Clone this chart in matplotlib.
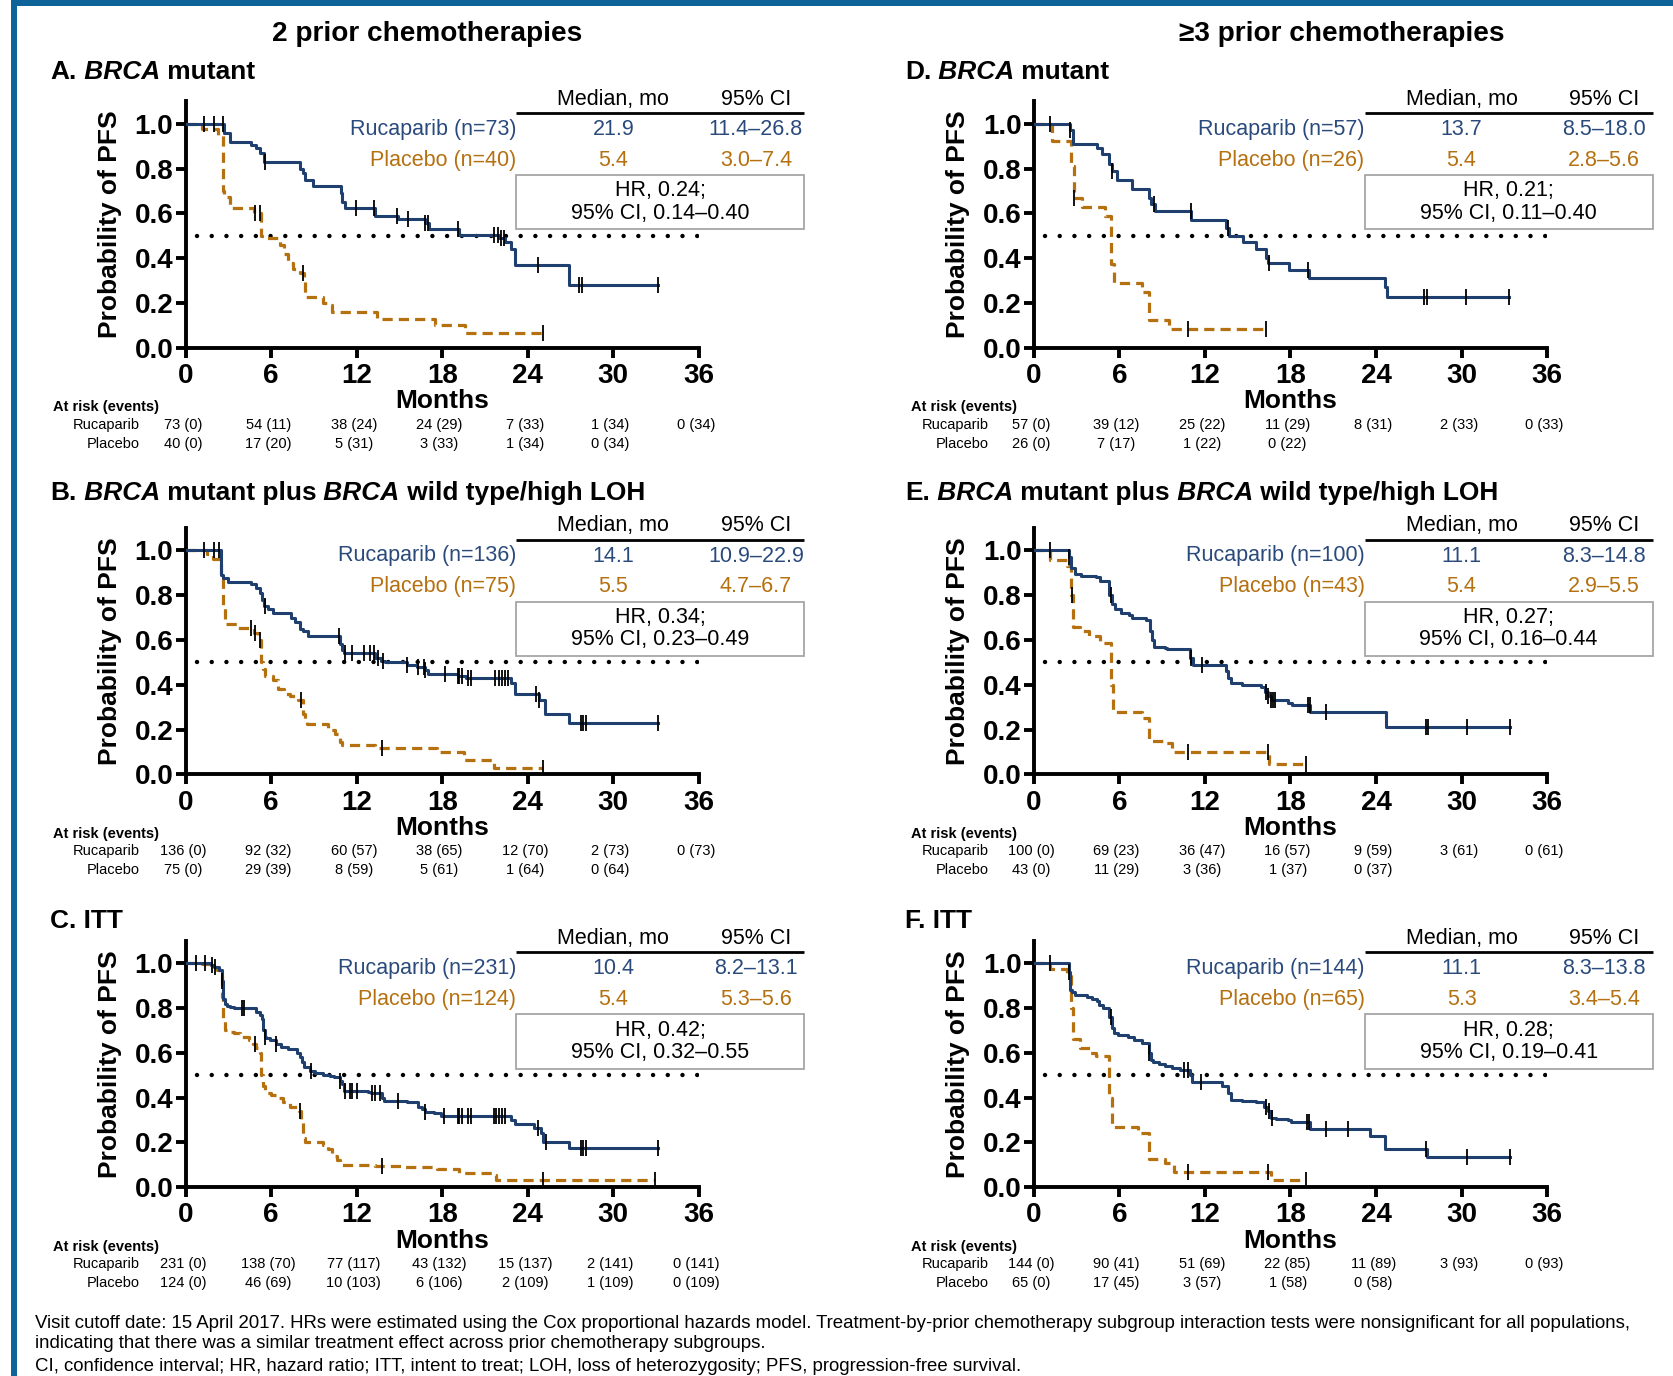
import numpy as np
import matplotlib
matplotlib.use("Agg")
import matplotlib.pyplot as plt
from matplotlib.patches import Rectangle

plt.rcParams['font.family'] = ['Liberation Sans', 'DejaVu Sans']

RUC_COLOR = '#1f3f6f'
RUC_TEXT = '#2a4a7c'
PBO_COLOR = '#b5700f'
BORDER = '#0e6399'

month_ticks = [0, 6, 12, 18, 24, 30, 36]
prob_ticks = [0.0, 0.2, 0.4, 0.6, 0.8, 1.0]

# ---- Panel A: 2 prior, BRCA mutant ----
ruc_A_t = [2.7, 3.1, 4.6, 4.9, 5.2, 5.5, 8.0, 8.2, 8.4, 8.9, 10.9, 11.0, 11.2, 13.3, 14.9, 16.8, 17.1, 19.2, 22.0, 22.4, 22.8, 23.1, 26.9]
ruc_A_s = [0.96, 0.92, 0.905, 0.89, 0.87, 0.83, 0.80, 0.78, 0.75, 0.72, 0.69, 0.65, 0.625, 0.59, 0.575, 0.555, 0.53, 0.505, 0.49, 0.47, 0.44, 0.37, 0.28]
ruc_A_cens = [1.3, 2.0, 2.6, 5.6, 11.95, 13.2, 14.8, 15.6, 16.8, 17.0, 19.1, 21.6, 21.9, 22.1, 22.3, 24.7, 27.6, 27.8]
ruc_A_end = 33.1
pbo_A_t = [1.15, 2.3, 2.6, 2.7, 3.1, 4.8, 5.3, 5.5, 6.6, 6.9, 7.2, 7.5, 8.0, 8.3, 8.4, 9.6, 10.0, 10.3, 13.4, 17.5, 19.6]
pbo_A_s = [0.975, 0.95, 0.70, 0.675, 0.625, 0.60, 0.50, 0.49, 0.46, 0.42, 0.38, 0.35, 0.335, 0.30, 0.225, 0.20, 0.19, 0.16, 0.13, 0.10, 0.065]
pbo_A_cens = [4.85, 5.2, 8.2]
pbo_A_end = 25.1

# ---- Panel B: 2 prior, BRCA mutant plus BRCA wild type/high LOH ----
ruc_B_t = [2.5, 2.65, 3.0, 4.6, 4.95, 5.2, 5.35, 5.5, 5.8, 6.1, 7.4, 7.7, 8.0, 8.2, 8.6, 10.8, 10.95, 11.1, 13.3, 13.7,
           14.0, 15.5, 16.2, 16.8, 17.0, 19.1, 19.7, 22.8, 23.1, 24.8, 25.2, 26.9]
ruc_B_s = [0.89, 0.876, 0.86, 0.85, 0.83, 0.81, 0.78, 0.75, 0.74, 0.72, 0.70, 0.68, 0.65, 0.64, 0.62, 0.58, 0.555, 0.54, 0.52, 0.505,
           0.50, 0.49, 0.48, 0.465, 0.45, 0.44, 0.43, 0.41, 0.36, 0.33, 0.27, 0.23]
ruc_B_cens = [1.26, 1.96, 2.34, 5.56, 10.75, 11.2, 11.7, 12.5, 12.9, 13.2, 13.5, 13.85, 15.5, 16.3, 16.7, 16.8, 18.2, 19.1,
              19.2, 19.4, 19.8, 20.0, 21.7, 22.0, 22.2, 22.4, 22.6, 24.6, 24.8, 27.7, 27.9, 28.1]
ruc_B_end = 33.1
pbo_B_t = [1.5, 1.9, 2.5, 2.65, 2.75, 3.7, 4.8, 5.1, 5.3, 5.45, 5.6, 6.1, 6.5, 6.9, 7.3, 7.9, 8.2, 8.35, 8.5, 10.0,
           10.5, 10.8, 11.0, 13.3, 17.6, 19.5, 21.6]
pbo_B_s = [0.985, 0.96, 0.89, 0.75, 0.67, 0.655, 0.63, 0.60, 0.50, 0.47, 0.44, 0.42, 0.38, 0.36, 0.35, 0.33, 0.27, 0.24, 0.225, 0.20,
           0.18, 0.145, 0.13, 0.12, 0.10, 0.065, 0.028]
pbo_B_cens = [4.6, 4.85, 5.2, 8.1, 13.8]
pbo_B_end = 25.1

# ---- Panel C: 2 prior, ITT ----
ruc_C_t = [1.8, 2.0, 2.35, 2.57, 2.65, 2.75, 2.9, 3.1, 3.4, 4.9, 5.2, 5.35, 5.45, 5.55, 5.65, 5.9, 6.35, 6.7, 7.2,
           7.8, 8.0, 8.15, 8.3, 8.7, 9.1, 9.6, 10.1, 10.4, 10.8, 10.95, 11.1, 12.8, 13.0, 13.8, 13.9, 15.5, 16.3, 16.6, 16.8,
           17.4, 17.9, 22.8, 23.1, 24.45, 24.9, 25.1, 26.9]
ruc_C_s = [0.99, 0.985, 0.97, 0.92, 0.84, 0.82, 0.81, 0.805, 0.80, 0.78, 0.77, 0.75, 0.70, 0.67, 0.665, 0.655, 0.64, 0.625, 0.615,
           0.60, 0.58, 0.56, 0.535, 0.52, 0.51, 0.50, 0.495, 0.49, 0.475, 0.46, 0.43, 0.425, 0.42, 0.40, 0.385, 0.38, 0.36, 0.35, 0.335,
           0.33, 0.32, 0.30, 0.28, 0.265, 0.24, 0.20, 0.175]
ruc_C_cens = [0.7, 1.34, 1.82, 2.03, 2.57, 3.96, 4.1, 5.57, 6.37, 8.8, 10.8, 11.2, 11.5, 11.7, 12.0, 13.1, 13.3, 13.6, 14.9,
              16.8, 18.15, 19.1, 19.2, 19.4, 19.8, 20.0, 21.6, 21.8, 22.0, 22.2, 22.4, 24.7, 25.25, 27.7, 27.9, 28.1]
ruc_C_end = 33.1
pbo_C_t = [1.15, 1.7, 2.2, 2.45, 2.57, 2.65, 2.75, 3.0, 3.4, 3.8, 4.45, 4.7, 4.9, 5.2, 5.3, 5.45, 5.6, 6.0, 6.4, 6.8,
           7.3, 7.95, 8.1, 8.2, 8.35, 9.6, 10.0, 10.3, 10.6, 10.8, 13.3, 15.2, 17.6, 19.2, 21.5, 21.8]
pbo_C_s = [0.995, 0.985, 0.97, 0.95, 0.85, 0.75, 0.70, 0.695, 0.69, 0.67, 0.655, 0.64, 0.62, 0.60, 0.50, 0.45, 0.42, 0.41, 0.40, 0.38,
           0.36, 0.34, 0.30, 0.22, 0.20, 0.19, 0.17, 0.14, 0.12, 0.10, 0.095, 0.09, 0.08, 0.065, 0.055, 0.03]
pbo_C_cens = [4.85, 8.0, 13.8, 25.1]
pbo_C_end = 32.9

# ---- Panel D: >=3 prior, BRCA mutant ----
ruc_D_t = [2.5, 2.75, 4.4, 4.75, 5.3, 5.45, 5.8, 6.85, 8.1, 8.25, 8.5, 11.05, 13.5, 13.7, 14.7, 15.6, 16.3, 16.45, 17.9, 19.3, 24.6, 24.8]
ruc_D_s = [0.97, 0.91, 0.89, 0.865, 0.82, 0.79, 0.75, 0.71, 0.67, 0.64, 0.61, 0.57, 0.535, 0.50, 0.47, 0.44, 0.40, 0.38, 0.345, 0.31, 0.27, 0.225]
ruc_D_cens = [1.15, 2.5, 5.5, 8.4, 11.0, 13.6, 16.5, 19.25, 27.4, 27.6, 30.3]
ruc_D_end = 33.3
pbo_D_t = [1.3, 2.6, 2.8, 3.4, 5.0, 5.4, 5.6, 7.6, 8.1, 9.5]
pbo_D_s = [0.925, 0.81, 0.67, 0.63, 0.59, 0.375, 0.29, 0.25, 0.125, 0.085]
pbo_D_cens = [2.8, 10.8]
pbo_D_end = 16.3

# ---- Panel E: >=3 prior, BRCA mutant plus BRCA wild type/high LOH ----
ruc_E_t = [2.47, 2.6, 2.85, 3.3, 4.35, 4.65, 5.3, 5.45, 5.7, 6.1, 6.65, 6.9, 7.85, 8.15, 8.3, 8.45, 9.2, 9.35, 10.95, 11.15,
           13.5, 13.65, 13.85, 14.6, 15.9, 16.2, 16.4, 16.6, 17.8, 18.1, 19.4, 24.7]
ruc_E_s = [0.97, 0.92, 0.895, 0.885, 0.88, 0.865, 0.80, 0.76, 0.74, 0.72, 0.71, 0.70, 0.69, 0.64, 0.60, 0.57, 0.565, 0.56, 0.52, 0.49,
           0.46, 0.43, 0.41, 0.40, 0.39, 0.37, 0.35, 0.33, 0.32, 0.31, 0.28, 0.21]
ruc_E_cens = [1.13, 2.47, 5.4, 11.0, 11.8, 16.3, 16.45, 16.6, 16.75, 16.9, 19.2, 19.35, 20.5, 27.5, 27.65, 30.4]
ruc_E_end = 33.4
pbo_E_t = [1.13, 2.3, 2.6, 2.75, 3.2, 3.85, 4.65, 5.4, 5.55, 7.6, 8.1, 9.2, 9.7, 16.5]
pbo_E_s = [0.955, 0.93, 0.80, 0.66, 0.64, 0.62, 0.585, 0.40, 0.28, 0.25, 0.15, 0.14, 0.10, 0.045]
pbo_E_cens = [2.65, 10.8, 16.4]
pbo_E_end = 19.1

# ---- Panel F: >=3 prior, ITT ----
ruc_F_t = [2.47, 2.55, 2.7, 2.9, 3.7, 4.1, 4.4, 4.6, 4.85, 5.3, 5.45, 5.6, 5.9, 6.6, 7.0, 7.55, 8.1, 8.2, 8.35, 8.75,
           9.2, 9.7, 10.25, 10.95, 11.1, 13.2, 13.6, 13.8, 14.6, 15.6, 16.15, 16.4, 16.6, 17.0, 17.8, 18.05, 19.35, 23.6, 24.65, 27.55]
ruc_F_s = [0.96, 0.88, 0.87, 0.86, 0.85, 0.84, 0.83, 0.815, 0.80, 0.76, 0.71, 0.69, 0.68, 0.67, 0.655, 0.645, 0.60, 0.57, 0.56, 0.55,
           0.54, 0.53, 0.525, 0.50, 0.47, 0.45, 0.42, 0.39, 0.385, 0.38, 0.36, 0.34, 0.31, 0.305, 0.30, 0.29, 0.26, 0.23, 0.17, 0.135]
ruc_F_cens = [1.13, 2.47, 5.4, 8.1, 10.55, 10.8, 11.7, 16.3, 16.5, 16.7, 19.15, 19.3, 20.5, 22.0, 27.5, 30.4]
ruc_F_end = 33.4
pbo_F_t = [1.13, 2.3, 2.6, 2.75, 3.2, 3.95, 4.35, 5.3, 5.45, 7.3, 8.1, 9.2, 9.8, 16.6]
pbo_F_s = [0.975, 0.95, 0.80, 0.66, 0.62, 0.60, 0.585, 0.40, 0.27, 0.24, 0.125, 0.11, 0.07, 0.03]
pbo_F_cens = [10.8, 16.4]
pbo_F_end = 19.1

# ---- summary tables ----
ruc_n = {'A': 73, 'B': 136, 'C': 231, 'D': 57, 'E': 100, 'F': 144}
pbo_n = {'A': 40, 'B': 75, 'C': 124, 'D': 26, 'E': 43, 'F': 65}
ruc_median = {'A': '21.9', 'B': '14.1', 'C': '10.4', 'D': '13.7', 'E': '11.1', 'F': '11.1'}
ruc_ci = {'A': '11.4\u201326.8', 'B': '10.9\u201322.9', 'C': '8.2\u201313.1', 'D': '8.5\u201318.0', 'E': '8.3\u201314.8', 'F': '8.3\u201313.8'}
pbo_median = {'A': '5.4', 'B': '5.5', 'C': '5.4', 'D': '5.4', 'E': '5.4', 'F': '5.3'}
pbo_ci = {'A': '3.0\u20137.4', 'B': '4.7\u20136.7', 'C': '5.3\u20135.6', 'D': '2.8\u20135.6', 'E': '2.9\u20135.5', 'F': '3.4\u20135.4'}
hr = {'A': '0.24', 'B': '0.34', 'C': '0.42', 'D': '0.21', 'E': '0.27', 'F': '0.28'}
hr_ci = {'A': '0.14\u20130.40', 'B': '0.23\u20130.49', 'C': '0.32\u20130.55', 'D': '0.11\u20130.40', 'E': '0.16\u20130.44', 'F': '0.19\u20130.41'}

# ---- at risk (events) ----
risk_ruc = {
    'A': ['73 (0)', '54 (11)', '38 (24)', '24 (29)', '7 (33)', '1 (34)', '0 (34)'],
    'B': ['136 (0)', '92 (32)', '60 (57)', '38 (65)', '12 (70)', '2 (73)', '0 (73)'],
    'C': ['231 (0)', '138 (70)', '77 (117)', '43 (132)', '15 (137)', '2 (141)', '0 (141)'],
    'D': ['57 (0)', '39 (12)', '25 (22)', '11 (29)', '8 (31)', '2 (33)', '0 (33)'],
    'E': ['100 (0)', '69 (23)', '36 (47)', '16 (57)', '9 (59)', '3 (61)', '0 (61)'],
    'F': ['144 (0)', '90 (41)', '51 (69)', '22 (85)', '11 (89)', '3 (93)', '0 (93)'],
}
risk_pbo = {
    'A': ['40 (0)', '17 (20)', '5 (31)', '3 (33)', '1 (34)', '0 (34)'],
    'B': ['75 (0)', '29 (39)', '8 (59)', '5 (61)', '1 (64)', '0 (64)'],
    'C': ['124 (0)', '46 (69)', '10 (103)', '6 (106)', '2 (109)', '1 (109)', '0 (109)'],
    'D': ['26 (0)', '7 (17)', '1 (22)', '0 (22)'],
    'E': ['43 (0)', '11 (29)', '3 (36)', '1 (37)', '0 (37)'],
    'F': ['65 (0)', '17 (45)', '3 (57)', '1 (58)', '0 (58)'],
}

curves = {
    'A': (ruc_A_t, ruc_A_s, ruc_A_cens, ruc_A_end, pbo_A_t, pbo_A_s, pbo_A_cens, pbo_A_end),
    'B': (ruc_B_t, ruc_B_s, ruc_B_cens, ruc_B_end, pbo_B_t, pbo_B_s, pbo_B_cens, pbo_B_end),
    'C': (ruc_C_t, ruc_C_s, ruc_C_cens, ruc_C_end, pbo_C_t, pbo_C_s, pbo_C_cens, pbo_C_end),
    'D': (ruc_D_t, ruc_D_s, ruc_D_cens, ruc_D_end, pbo_D_t, pbo_D_s, pbo_D_cens, pbo_D_end),
    'E': (ruc_E_t, ruc_E_s, ruc_E_cens, ruc_E_end, pbo_E_t, pbo_E_s, pbo_E_cens, pbo_E_end),
    'F': (ruc_F_t, ruc_F_s, ruc_F_cens, ruc_F_end, pbo_F_t, pbo_F_s, pbo_F_cens, pbo_F_end),
}

titles = {
    'A': [('A.', 'normal'), (' BRCA', 'italic'), (' mutant', 'normal')],
    'B': [('B.', 'normal'), (' BRCA', 'italic'), (' mutant plus', 'normal'), (' BRCA', 'italic'), (' wild type/high LOH', 'normal')],
    'C': [('C. ITT', 'normal')],
    'D': [('D.', 'normal'), (' BRCA', 'italic'), (' mutant', 'normal')],
    'E': [('E.', 'normal'), (' BRCA', 'italic'), (' mutant plus', 'normal'), (' BRCA', 'italic'), (' wild type/high LOH', 'normal')],
    'F': [('F. ITT', 'normal')],
}

footer = [
    "Visit cutoff date: 15 April 2017. HRs were estimated using the Cox proportional hazards model. Treatment-by-prior chemotherapy subgroup interaction tests were nonsignificant for all populations,",
    "indicating that there was a similar treatment effect across prior chemotherapy subgroups.",
    "CI, confidence interval; HR, hazard ratio; ITT, intent to treat; LOH, loss of heterozygosity; PFS, progression-free survival.",
]

# layout (fractions of the 1568x1290 preview == figure fractions)
W, H = 1568.0, 1290.0
col_left = {0: 174 / W, 1: 969 / W}
row_bottom = {0: 1 - 326 / H, 1: 1 - 726 / H, 2: 1 - 1113 / H}
ax_w = 481 / W
ax_h = 231 / H
grid = {'A': (0, 0), 'B': (0, 1), 'C': (0, 2), 'D': (1, 0), 'E': (1, 1), 'F': (1, 2)}
title_y = {0: 66, 1: 460, 2: 862}
title_x = {0: 47, 1: 848}
risk_left = {0: -9.3, 1: -8.6}


def draw_km(ax, t, s, cens, end, color, dashed):
    t = np.asarray(t)
    s = np.asarray(s)
    x = np.r_[0.0, t, end]
    y = np.r_[1.0, s, s[-1]]
    if dashed:
        ax.step(x, y, where='post', color=color, lw=2.3, ls=(0, (3.2, 1.9)), zorder=3)
    else:
        ax.step(x, y, where='post', color=color, lw=2.2, zorder=3)
    cx = np.r_[cens, end]
    idx = np.searchsorted(t, cx, side='right')
    cy = np.r_[1.0, s][idx]
    ax.plot(cx, cy, ls='none', marker='|', ms=12, mew=1.3, color='black', zorder=4)


fig = plt.figure(figsize=(16.73, 13.76), dpi=100)

axes = {}
for key, (c, r) in grid.items():
    ax = fig.add_axes([col_left[c], row_bottom[r], ax_w, ax_h])
    axes[key] = ax
    rt, rs, rc, re, pt, ps, pc, pe = curves[key]
    draw_km(ax, pt, ps, pc, pe, PBO_COLOR, True)
    draw_km(ax, rt, rs, rc, re, RUC_COLOR, False)
    # median reference line
    ax.plot([0.8, 36], [0.5, 0.5], color='black', lw=3.2, ls=(0, (0.01, 3.3)),
            dash_capstyle='round', zorder=2)

    ax.set_xlim(0, 36)
    ax.set_ylim(0, 1.1)
    ax.set_xticks(month_ticks)
    ax.set_yticks(prob_ticks)
    ax.set_yticklabels(['%.1f' % v for v in prob_ticks])
    for sp in ['top', 'right']:
        ax.spines[sp].set_visible(False)
    for sp in ['left', 'bottom']:
        ax.spines[sp].set_linewidth(2.8)
    ax.tick_params(axis='both', width=2.8, length=7, labelsize=20, direction='out')
    ax.tick_params(axis='x', pad=4)
    ax.tick_params(axis='y', pad=2)
    for lab in ax.get_xticklabels() + ax.get_yticklabels():
        lab.set_fontweight('bold')
    ax.set_xlabel('Months', fontsize=19, fontweight='bold')
    ax.xaxis.set_label_coords(0.5, -0.218)
    ax.xaxis.label.set_va('center')
    ax.set_ylabel('Probability of PFS', fontsize=19, fontweight='bold')
    ax.yaxis.set_label_coords(-0.148, 0.5)
    ax.yaxis.label.set_va('center')

    # median / HR table
    tk = dict(transform=ax.transData, clip_on=False, fontsize=15.5, va='center')
    ax.text(30.0, 1.11, 'Median, mo', ha='center', color='black', **tk)
    ax.text(40.0, 1.11, '95% CI', ha='center', color='black', **tk)
    ax.plot([23.2, 43.4], [1.048, 1.048], color='black', lw=2.0, clip_on=False, solid_capstyle='butt')
    ax.text(23.2, 0.975, 'Rucaparib (n=%d)' % ruc_n[key], ha='right', color=RUC_TEXT, **tk)
    ax.text(30.0, 0.975, ruc_median[key], ha='center', color=RUC_TEXT, **tk)
    ax.text(40.0, 0.975, ruc_ci[key], ha='center', color=RUC_TEXT, **tk)
    ax.text(23.2, 0.837, 'Placebo (n=%d)' % pbo_n[key], ha='right', color=PBO_COLOR, **tk)
    ax.text(30.0, 0.837, pbo_median[key], ha='center', color=PBO_COLOR, **tk)
    ax.text(40.0, 0.837, pbo_ci[key], ha='center', color=PBO_COLOR, **tk)
    ax.add_patch(Rectangle((23.2, 0.529), 20.2, 0.242, fill=False, edgecolor='#a6a6a6', lw=1.3, clip_on=False))
    ax.text(33.3, 0.70, 'HR, %s;' % hr[key], ha='center', color='black', **tk)
    ax.text(33.3, 0.60, '95%% CI, %s' % hr_ci[key], ha='center', color='black', **tk)

    # at risk table
    rk = dict(transform=ax.transData, clip_on=False, fontsize=10.5, va='center')
    ax.text(risk_left[c], -0.265, 'At risk (events)', ha='left', fontweight='bold', **rk)
    ax.text(-3.2, -0.343, 'Rucaparib', ha='right', **rk)
    ax.text(-3.2, -0.429, 'Placebo', ha='right', **rk)
    for m, lab in zip(month_ticks, risk_ruc[key]):
        ax.text(m - 0.2, -0.343, lab, ha='center', **rk)
    for m, lab in zip(month_ticks, risk_pbo[key]):
        ax.text(m - 0.2, -0.429, lab, ha='center', **rk)

# column headers
hk = dict(fontsize=20.2, fontweight='bold', ha='center', va='center')
fig.text(400 / W, 1 - 32 / H, '2 prior chemotherapies', **hk)
fig.text(1258 / W, 1 - 32 / H, '\u22653 prior chemotherapies', **hk)

# panel titles with italic BRCA
for key, (c, r) in grid.items():
    prev = None
    for txt, style in titles[key]:
        kw = dict(fontsize=18.9, fontweight='bold', fontstyle=style, ha='left', va='bottom')
        if prev is None:
            prev = fig.text(title_x[c] / W, 1 - (title_y[r] + 13) / H, txt, **kw)
        else:
            prev = axes['A'].annotate(txt, xy=(1, 0), xycoords=prev, **kw)

# footnotes
for line, yy in zip(footer, [1241, 1260, 1281]):
    fig.text(33 / W, 1 - yy / H, line, fontsize=13.4, ha='left', va='center')

# blue frame
fig.patches.append(Rectangle((10.5 / 1673, 0), 6.5 / 1673, 1, transform=fig.transFigure,
                             facecolor=BORDER, edgecolor='none'))
fig.patches.append(Rectangle((10.5 / 1673, 1 - 6 / 1376), 1, 6 / 1376, transform=fig.transFigure,
                             facecolor=BORDER, edgecolor='none'))

fig.savefig('out.png', dpi=100)
